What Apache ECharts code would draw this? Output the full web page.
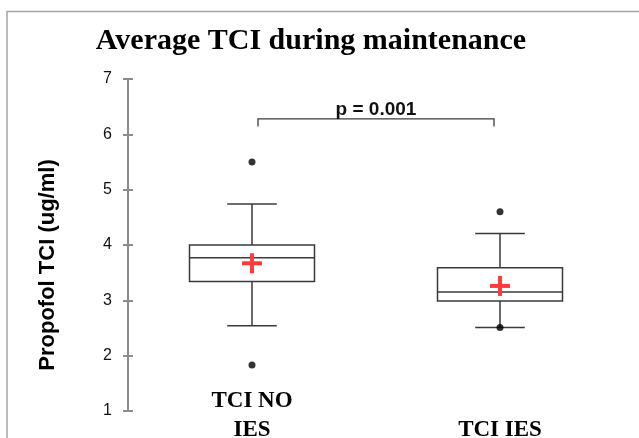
<!DOCTYPE html>
<html><head><meta charset="utf-8">
<script src="https://cdn.jsdelivr.net/npm/echarts@6/dist/echarts.min.js"></script>
<style>html,body{margin:0;padding:0;background:#fff}#c{width:639px;height:438px}</style>
</head><body><div id="c"></div>
<script>
// ---- data ----
const categories = ['TCI NO\nIES', 'TCI IES'];
const whiskerLow = [2.54, 2.51];
const q1 = [3.34, 2.99];
const median = [3.77, 3.15];
const q3 = [4.0, 3.59];
const whiskerHigh = [4.74, 4.21];
const means = [3.67, 3.26];
const outlierCat = [0, 0, 1, 1];
const outlierVal = [5.5, 1.83, 4.6, 2.51];
const yMin = 1, yMax = 7, yStep = 1;
const bracketLevels = [6.28, 6.14]; // bar height, foot height
const pLabel = 'p = 0.001';
const titleText = 'Average TCI during maintenance';
const yName = 'Propofol TCI (ug/ml)';

// ---- build ----
const boxData = categories.map((c, i) => [i, whiskerLow[i], q1[i], median[i], q3[i], whiskerHigh[i], means[i]]);
const outlierData = outlierCat.map((c, i) => [c, outlierVal[i]]);

const LINE = '#3a3a3a';
function renderBox(params, api) {
  const i = api.value(0);
  const band = api.size([1, 0])[0];
  const bw = band * 0.504, cw = band * 0.2;
  const x = api.coord([i, 0])[0];
  const y = k => api.coord([i, api.value(k)])[1];
  const yLo = y(1), yQ1 = y(2), yMed = y(3), yQ3 = y(4), yHi = y(5), yMean = y(6);
  const ls = {stroke: LINE, lineWidth: 1.5, fill: null};
  const red = '#ff3b3b';
  return {type: 'group', children: [
    {type: 'rect', shape: {x: x - bw / 2, y: yQ3, width: bw, height: yQ1 - yQ3}, style: {stroke: LINE, lineWidth: 1.5, fill: '#fff'}},
    {type: 'line', shape: {x1: x - bw / 2, y1: yMed, x2: x + bw / 2, y2: yMed}, style: ls},
    {type: 'line', shape: {x1: x, y1: yQ3, x2: x, y2: yHi}, style: ls},
    {type: 'line', shape: {x1: x, y1: yQ1, x2: x, y2: yLo}, style: ls},
    {type: 'line', shape: {x1: x - cw / 2, y1: yHi, x2: x + cw / 2, y2: yHi}, style: ls},
    {type: 'line', shape: {x1: x - cw / 2, y1: yLo, x2: x + cw / 2, y2: yLo}, style: ls},
    {type: 'rect', shape: {x: x - 10, y: yMean - 2, width: 20, height: 4}, style: {fill: red}},
    {type: 'rect', shape: {x: x - 2, y: yMean - 10, width: 4, height: 20}, style: {fill: red}}
  ]};
}
function renderBracket(params, api) {
  const x0 = api.coord([api.value(0), 0])[0] + 6;
  const x1 = api.coord([api.value(1), 0])[0] - 6;
  const yTop = api.coord([0, api.value(2)])[1];
  const yFoot = api.coord([0, api.value(3)])[1];
  return {type: 'group', children: [
    {type: 'polyline', shape: {points: [[x0, yFoot], [x0, yTop], [x1, yTop], [x1, yFoot]]}, style: {stroke: LINE, lineWidth: 1.3, fill: null}},
    {type: 'text', x: (x0 + x1) / 2, y: yTop - 9, style: {text: pLabel, font: 'bold 19px "Liberation Sans"', fill: '#111', textAlign: 'center', textVerticalAlign: 'middle'}}
  ]};
}

const chart = echarts.init(document.getElementById('c'), null, {renderer: 'canvas'});
chart.setOption({
  animation: false,
  grid: {left: 128, right: 15, top: 79, bottom: 27, outerBoundsMode: 'none', containLabel: false},
  graphic: [
    {type: 'rect', shape: {x: 7, y: 11.5, width: 700, height: 500}, style: {fill: null, stroke: '#a6a6a6', lineWidth: 1.5}, z: -1},
    {type: 'text', x: 311, y: 41, style: {text: titleText, font: 'bold 30px "Liberation Serif"', fill: '#000', textAlign: 'center', textVerticalAlign: 'middle'}},
    {type: 'text', x: 48, y: 265, rotation: Math.PI / 2, style: {text: yName, font: 'bold 22px "Liberation Sans"', fill: '#000', textAlign: 'center', textVerticalAlign: 'middle'}}
  ],
  xAxis: {
    type: 'category', data: categories, boundaryGap: true,
    axisLine: {show: false}, axisTick: {show: false}, splitLine: {show: false},
    axisLabel: {interval: 0, margin: 34, verticalAlign: 'bottom', fontFamily: 'Liberation Serif', fontWeight: 'bold', fontSize: 23, lineHeight: 29, color: '#000'}
  },
  yAxis: [{
    type: 'value', min: yMin, max: yMax, interval: yStep, position: 'left',
    axisLine: {show: true, lineStyle: {color: '#8c8c8c', width: 2}},
    axisTick: {show: true, length: 5, lineStyle: {color: '#8c8c8c', width: 2}},
    axisLabel: {margin: 16, fontFamily: 'Liberation Sans', fontSize: 16, color: '#111'},
    splitLine: {show: false}
  }, {
    type: 'value', min: yMin, max: yMax, interval: yStep, position: 'left', offset: 0,
    axisLine: {show: false},
    axisTick: {show: true, inside: true, length: 5, lineStyle: {color: '#8c8c8c', width: 2}},
    axisLabel: {show: false}, splitLine: {show: false}
  }],
  series: [
    {type: 'custom', renderItem: renderBox, data: boxData, encode: {x: 0, y: [1, 2, 3, 4, 5]}, z: 2},
    {type: 'scatter', data: outlierData, symbol: 'circle', symbolSize: 7, itemStyle: {color: '#000'}, z: 3},
    {type: 'custom', renderItem: renderBracket, data: [[0, 1, bracketLevels[0], bracketLevels[1]]], encode: {x: [0, 1], y: [2, 3]}, z: 3}
  ]
});
</script></body></html>
